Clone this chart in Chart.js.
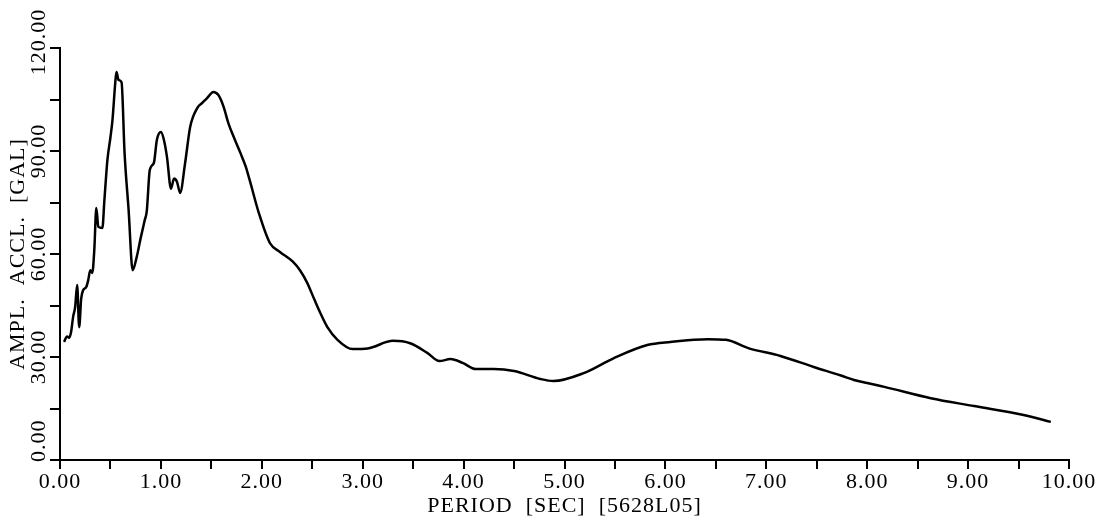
<!DOCTYPE html>
<html>
<head>
<meta charset="utf-8">
<title>Response spectrum 5628L05</title>
<script src="https://cdn.jsdelivr.net/npm/chart.js@4.4.0/dist/chart.umd.min.js"></script>
<style>
  html, body { margin: 0; padding: 0; background: #ffffff; }
  #wrap { width: 1120px; height: 522px; }
</style>
</head>
<body>
<div id="wrap"><canvas id="chart" width="1120" height="522"></canvas></div>
<script>
// Period [sec] of each spectrum sample
const periods = [
  0.04, 0.07, 0.09, 0.11, 0.13, 0.15, 0.17, 0.19, 0.21, 0.23,
  0.26, 0.28, 0.30, 0.32, 0.34, 0.36, 0.38, 0.42, 0.44, 0.47,
  0.50, 0.52, 0.55, 0.56, 0.58, 0.61, 0.64, 0.68, 0.72, 0.76,
  0.80, 0.84, 0.86, 0.89, 0.93, 0.96, 1.00, 1.03, 1.06, 1.10,
  1.13, 1.16, 1.19, 1.24, 1.29, 1.36, 1.41, 1.46, 1.52, 1.57,
  1.62, 1.67, 1.73, 1.79, 1.84, 1.88, 1.97, 2.08, 2.18, 2.31,
  2.38, 2.45, 2.52, 2.58, 2.65, 2.75, 2.90, 3.05, 3.30, 3.47,
  3.64, 3.76, 3.87, 3.99, 4.12, 4.30, 4.50, 4.76, 4.89, 5.19,
  5.49, 5.82, 6.05, 6.42, 6.60, 6.82, 7.14, 7.47, 7.74, 7.87,
  8.00, 8.17, 8.63, 9.06, 9.55, 9.82
];

// Amplitude of acceleration [gal]
const accel = [
  34.4, 36.0, 35.6, 37.3, 41.7, 44.5, 51.0, 38.7, 47.0, 49.5,
  50.4, 52.4, 55.3, 54.5, 61.2, 73.4, 67.9, 67.6, 75.7, 87.4,
  94.0, 99.0, 110.7, 113.0, 110.7, 110.0, 89.4, 72.8, 55.3, 59.1,
  64.7, 69.9, 72.5, 84.5, 86.5, 93.2, 95.5, 93.2, 88.3, 79.0,
  82.0, 81.0, 77.8, 86.5, 97.0, 102.5, 104.0, 105.5, 107.2, 106.3,
  103.0, 98.0, 93.5, 89.3, 85.5, 81.5, 72.0, 63.2, 60.6, 57.7,
  55.2, 51.6, 46.8, 42.8, 38.7, 35.0, 32.3, 32.5, 34.7, 34.0,
  31.2, 28.8, 29.4, 28.3, 26.5, 26.5, 25.9, 23.6, 23.0, 25.3,
  29.7, 33.5, 34.4, 35.2, 35.0, 32.6, 30.3, 27.1, 24.6, 23.3,
  22.4, 21.3, 18.0, 15.7, 13.1, 11.1
];

// Labelled ticks on the vertical axis
const yTickLabels = [0, 30, 60, 90, 120];

const TEXT_FONT = { family: "'Liberation Serif', 'DejaVu Serif', serif", size: 22 };

// Slightly open letter spacing for all chart text
const textSpacing = {
  id: 'textSpacing',
  beforeDraw(chart) {
    chart.ctx.letterSpacing = '1px';
  }
};

// Rotated value labels along the left axis
const rotatedYLabels = {
  id: 'rotatedYLabels',
  afterDraw(chart) {
    const scale = chart.scales.y;
    const ctx = chart.ctx;
    ctx.save();
    ctx.letterSpacing = '1px';
    ctx.fillStyle = '#000';
    ctx.font = TEXT_FONT.size + 'px ' + TEXT_FONT.family;
    ctx.textBaseline = 'middle';
    yTickLabels.forEach(v => {
      const py = scale.getPixelForValue(v);
      ctx.save();
      ctx.translate(39, v === 0 ? py + 2 : (v === 120 ? py - 6 : py));
      ctx.rotate(-Math.PI / 2);
      ctx.textAlign = v === 0 ? 'left' : 'center';
      ctx.fillText(v.toFixed(2), 0, 0);
      ctx.restore();
    });
    ctx.restore();
  }
};

new Chart(document.getElementById('chart'), {
  type: 'line',
  data: {
    datasets: [{
      data: periods.map((t, i) => ({ x: t, y: accel[i] })),
      borderColor: '#000',
      borderWidth: 2.5,
      pointRadius: 0,
      fill: false,
      cubicInterpolationMode: 'monotone'
    }]
  },
  options: {
    responsive: false,
    animation: false,
    devicePixelRatio: 1,
    layout: { padding: { top: 48, right: 51, left: 0, bottom: 0 } },
    plugins: { legend: { display: false }, tooltip: { enabled: false } },
    scales: {
      x: {
        type: 'linear',
        position: 'bottom',
        min: 0,
        max: 10,
        ticks: {
          stepSize: 0.5,
          autoSkip: false,
          maxRotation: 0,
          minRotation: 0,
          color: '#000',
          font: TEXT_FONT,
          padding: 0,
          callback: v => Number.isInteger(v) ? v.toFixed(2) : ''
        },
        grid: { drawOnChartArea: false, drawTicks: true, tickLength: 9, color: '#000', lineWidth: 2 },
        border: { display: true, color: '#000', width: 2 },
        title: {
          display: true,
          text: 'PERIOD  [SEC]  [5628L05]',
          color: '#000',
          font: TEXT_FONT,
          padding: { top: 0, bottom: 3 }
        },
        afterFit(scale) { scale.height = 62; }
      },
      y: {
        type: 'linear',
        min: 0,
        max: 120,
        ticks: { stepSize: 15, display: false },
        grid: { drawOnChartArea: false, drawTicks: true, tickLength: 10, color: '#000', lineWidth: 2 },
        border: { display: true, color: '#000', width: 2 },
        title: {
          display: true,
          text: 'AMPL.  ACCL.  [GAL]',
          color: '#000',
          font: TEXT_FONT,
          padding: { top: 5, bottom: 0 }
        },
        afterFit(scale) { scale.width = 60; }
      }
    }
  },
  plugins: [textSpacing, rotatedYLabels]
});
</script>
</body>
</html>
